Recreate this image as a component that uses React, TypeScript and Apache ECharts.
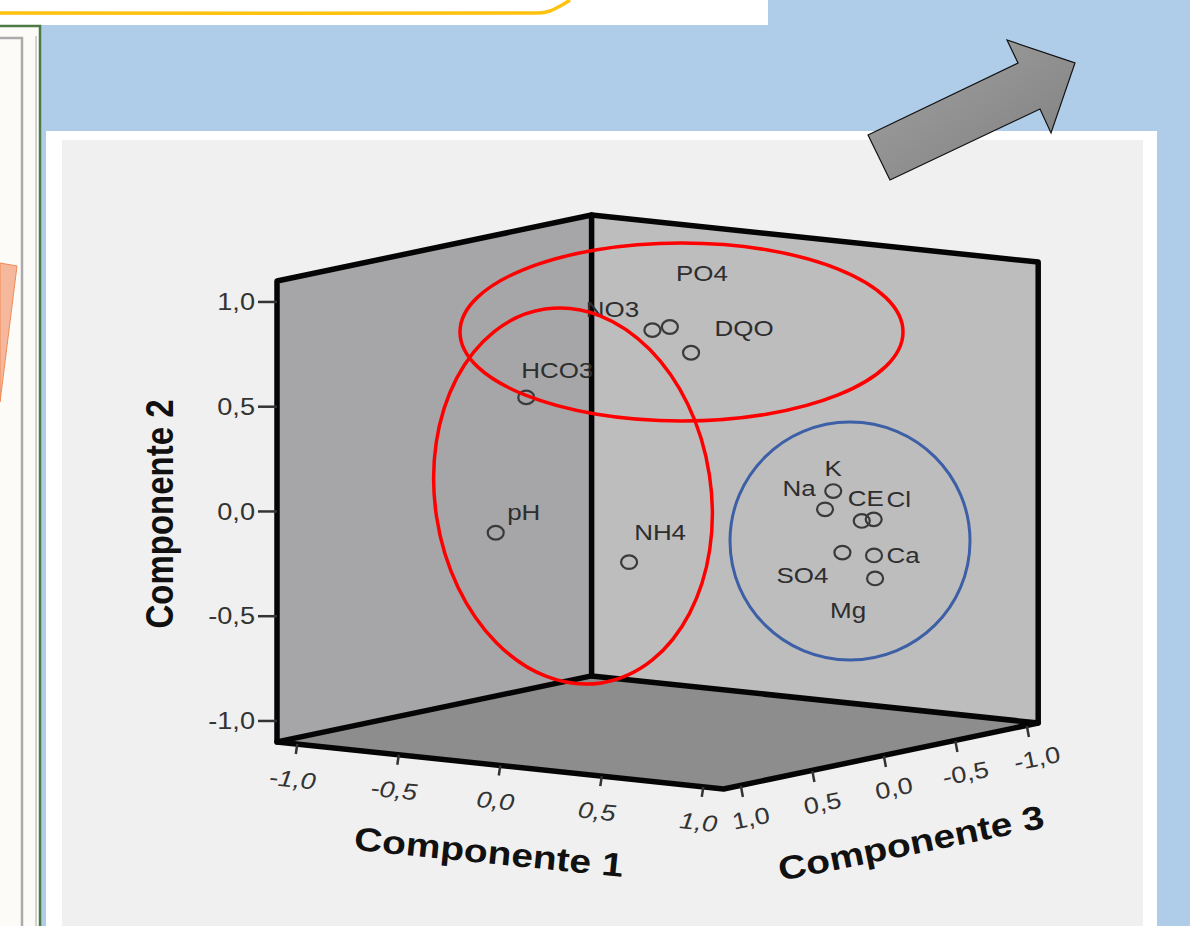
import React, { useEffect, useRef } from 'react';
import * as echarts from 'echarts';

// ---- Data (component loadings) ----
const VARIABLES = ['pH', 'HCO3', 'NH4', 'NO3', 'PO4', 'DQO', 'K', 'Na', 'CE', 'Cl', 'SO4', 'Ca', 'Mg'];
const COMPONENT_1 = [-0.41, -0.33, -0.07, 0.08, -0.01, 0.2, 0.83, 0.86, 0.9, 0.98, 0.84, 0.89, 0.86];
const COMPONENT_2 = [-0.11, 0.53, -0.28, 0.85, 0.82, 0.74, 0.13, 0.06, -0.02, 0.0, -0.17, -0.2, -0.32];
const COMPONENT_3 = [0.55, 0.45, 0.1, 0.15, -0.1, 0.05, -0.05, 0.05, -0.15, -0.12, -0.1, -0.25, -0.3];
const TICK_VALUES = [-1, -0.5, 0, 0.5, 1];
const TICK_LABELS = ['-1,0', '-0,5', '0,0', '0,5', '1,0'];
const AXIS_TITLES = ['Componente 1', 'Componente 2', 'Componente 3'];
const AXIS_RANGE = 1.1;

// ---- Layout / projection (screen space of the hidden cartesian axes) ----
const W = 1190;
const H = 926;
const ORIGIN = [657.6, 502];
const E1 = [203, 21.4];
const E2 = [0, -209.5];
const E3 = [-143, 30];
const STRETCH = 1.18;
const FONT = '"Liberation Sans", Arial, Helvetica, sans-serif';

function project(c1: number, c2: number, c3: number): number[] {
  return [
    ORIGIN[0] + E1[0] * c1 + E2[0] * c2 + E3[0] * c3,
    ORIGIN[1] + E1[1] * c1 + E2[1] * c2 + E3[1] * c3,
  ];
}

const LABEL_OFFSETS: Record<string, number[]> = {
  pH: [28, -21],
  HCO3: [31, -27],
  NH4: [31, -30],
  NO3: [-40, -21],
  PO4: [32, -54],
  DQO: [53, -25],
  K: [0, -23],
  Na: [-26, -21],
  CE: [4, -23],
  Cl: [25, -20],
  SO4: [-40, 23],
  Ca: [29, 0],
  Mg: [-27, 32],
};

function buildOption(): any {
  const R = AXIS_RANGE;

  const wallsSeries = {
    type: 'custom',
    z: 2,
    clip: false,
    silent: true,
    data: [[0, 0]],
    renderItem: (_p: any, api: any) => {
      const P = (a: number, b: number, c: number) => api.coord(project(a, b, c));
      const left = [P(-R, -R, R), P(-R, R, R), P(-R, R, -R), P(-R, -R, -R)];
      const right = [P(-R, -R, -R), P(-R, R, -R), P(R, R, -R), P(R, -R, -R)];
      const floor = [P(-R, -R, R), P(-R, -R, -R), P(R, -R, -R), P(R, -R, R)];
      const edge = { stroke: '#050505', lineWidth: 5.5, fill: 'none', lineJoin: 'round', lineCap: 'round' };
      return {
        type: 'group',
        children: [
          { type: 'polygon', shape: { points: left }, style: { fill: '#A6A6A9' } },
          { type: 'polygon', shape: { points: right }, style: { fill: '#BDBDBE' } },
          { type: 'polygon', shape: { points: floor }, style: { fill: '#8D8D8D' } },
          {
            type: 'polyline',
            shape: {
              points: [P(-R, -R, R), P(-R, R, R), P(-R, R, -R), P(R, R, -R), P(R, -R, -R), P(R, -R, R), P(-R, -R, R)],
            },
            style: edge,
          },
          { type: 'polyline', shape: { points: [P(-R, -R, -R), P(-R, R, -R)] }, style: edge },
          { type: 'polyline', shape: { points: [P(-R, -R, R), P(-R, -R, -R), P(R, -R, -R)] }, style: edge },
        ],
      };
    },
  };

  const tickText = (x: number, y: number, text: string, extra: any) => ({
    type: 'text',
    x,
    y,
    scaleX: STRETCH,
    ...extra,
    style: {
      text,
      fill: '#333333',
      fontSize: 23,
      fontFamily: FONT,
      align: 'center',
      verticalAlign: 'middle',
      ...(extra.style || {}),
    },
  });

  const axis2Series = {
    type: 'custom',
    z: 3,
    clip: false,
    silent: true,
    data: TICK_VALUES.map((v, i) => [v, i]),
    renderItem: (params: any, api: any) => {
      const v = api.value(0);
      const [x, y] = api.coord(project(-R, v, R));
      return {
        type: 'group',
        children: [
          { type: 'line', shape: { x1: x - 19, y1: y, x2: x, y2: y }, style: { stroke: '#333', lineWidth: 2.5 } },
          tickText(x - 22, y, TICK_LABELS[params.dataIndex], { style: { align: 'right' } }),
        ],
      };
    },
  };

  const axis1Series = {
    type: 'custom',
    z: 3,
    clip: false,
    silent: true,
    data: TICK_VALUES.map((v, i) => [v, i]),
    renderItem: (params: any, api: any) => {
      const v = api.value(0);
      const [x, y] = api.coord(project(v, -R, R));
      return {
        type: 'group',
        children: [
          { type: 'line', shape: { x1: x, y1: y, x2: x - 1.5, y2: y + 10 }, style: { stroke: '#333', lineWidth: 2.5 } },
          tickText(x - 5, y + 35, TICK_LABELS[params.dataIndex], {
            rotation: -0.105,
            style: { fontStyle: 'italic' },
          }),
        ],
      };
    },
  };

  const axis3Series = {
    type: 'custom',
    z: 3,
    clip: false,
    silent: true,
    data: TICK_VALUES.map((v, i) => [v, i]),
    renderItem: (params: any, api: any) => {
      const v = api.value(0);
      const [x, y] = api.coord(project(R, -R, v));
      return {
        type: 'group',
        children: [
          { type: 'line', shape: { x1: x + 3, y1: y, x2: x + 5, y2: y + 11 }, style: { stroke: '#333', lineWidth: 2.5 } },
          tickText(x + 13, y + 32, TICK_LABELS[params.dataIndex], { rotation: 0.2 }),
        ],
      };
    },
  };

  const pointsSeries = {
    type: 'custom',
    z: 4,
    clip: false,
    silent: true,
    dimensions: ['c1', 'c2', 'c3'],
    data: VARIABLES.map((_n, i) => [COMPONENT_1[i], COMPONENT_2[i], COMPONENT_3[i]]),
    renderItem: (params: any, api: any) => {
      const name = VARIABLES[params.dataIndex];
      const [x, y] = api.coord(project(api.value(0), api.value(1), api.value(2)));
      const off = LABEL_OFFSETS[name] || [25, -22];
      return {
        type: 'group',
        children: [
          {
            type: 'ellipse',
            shape: { cx: x, cy: y, rx: 8, ry: 6.8 },
            style: { fill: 'none', stroke: '#3A3A3A', lineWidth: 2.2 },
          },
          {
            type: 'text',
            x: x + off[0],
            y: y + off[1],
            scaleX: STRETCH,
            style: {
              text: name,
              fill: '#2E2E2E',
              fontSize: 22,
              fontFamily: FONT,
              align: 'center',
              verticalAlign: 'middle',
            },
          },
        ],
      };
    },
  };

  const graphicElements: any[] = [
    // page pieces
    { type: 'rect', z: 0, shape: { x: 0, y: 0, width: 768, height: 25 }, style: { fill: '#FFFFFF' } },
    {
      type: 'polyline',
      z: 1,
      shape: { points: [[0, 13], [538, 13], [550, 11], [562, 5], [570, 0]], smooth: 0.3 },
      style: { stroke: '#FFC20E', lineWidth: 3.5, fill: 'none' },
    },
    { type: 'rect', z: 0, shape: { x: 0, y: 25, width: 41, height: H - 25 }, style: { fill: '#FCFBF8' } },
    {
      type: 'polyline',
      z: 1,
      shape: { points: [[0, 38], [22, 38], [22, H]] },
      style: { stroke: '#ABABAB', lineWidth: 2.5, fill: 'none' },
    },
    { type: 'line', z: 1, shape: { x1: 36, y1: 36, x2: 36, y2: H }, style: { stroke: '#D2D2D2', lineWidth: 2 } },
    {
      type: 'polyline',
      z: 1,
      shape: { points: [[0, 26], [40, 26], [40, H]] },
      style: { stroke: '#4E7B45', lineWidth: 2.5, fill: 'none' },
    },
    {
      type: 'polygon',
      z: 1,
      shape: { points: [[0, 263], [17, 266], [0, 402]] },
      style: { fill: '#F6B89C', stroke: '#EE8A55', lineWidth: 1 },
    },
    { type: 'rect', z: 0, shape: { x: 46, y: 131, width: 1111, height: H - 131 }, style: { fill: '#FFFFFF' } },
    { type: 'rect', z: 0, shape: { x: 62, y: 140, width: 1081, height: H - 140 }, style: { fill: '#F0F0F0' } },
    // axis titles
    {
      type: 'text',
      z: 5,
      x: 160,
      y: 514,
      rotation: Math.PI / 2,
      scaleY: STRETCH,
      style: {
        text: AXIS_TITLES[1],
        fill: '#111',
        fontSize: 33,
        fontWeight: 'bold',
        fontFamily: FONT,
        align: 'center',
        verticalAlign: 'middle',
      },
    },
    {
      type: 'text',
      z: 5,
      x: 489,
      y: 852,
      rotation: -0.1,
      scaleX: STRETCH,
      style: {
        text: AXIS_TITLES[0],
        fill: '#111',
        fontSize: 33,
        fontWeight: 'bold',
        fontFamily: FONT,
        align: 'center',
        verticalAlign: 'middle',
      },
    },
    {
      type: 'text',
      z: 5,
      x: 911,
      y: 843,
      rotation: 0.2,
      scaleX: STRETCH,
      style: {
        text: AXIS_TITLES[2],
        fill: '#111',
        fontSize: 33,
        fontWeight: 'bold',
        fontFamily: FONT,
        align: 'center',
        verticalAlign: 'middle',
      },
    },
    // annotations
    {
      type: 'ellipse',
      z: 20,
      shape: { cx: 681.5, cy: 332, rx: 221.5, ry: 89 },
      style: { fill: 'none', stroke: '#FF0000', lineWidth: 3.5 },
    },
    {
      type: 'ellipse',
      z: 20,
      x: 573,
      y: 496,
      rotation: 0.15,
      shape: { cx: 0, cy: 0, rx: 138, ry: 189 },
      style: { fill: 'none', stroke: '#FF0000', lineWidth: 3.5 },
    },
    {
      type: 'ellipse',
      z: 20,
      shape: { cx: 850, cy: 541, rx: 120, ry: 119 },
      style: { fill: 'none', stroke: '#3D5FA6', lineWidth: 3 },
    },
    {
      type: 'polygon',
      z: 20,
      shape: {
        points: [
          [868, 135],
          [890, 180],
          [1040, 109],
          [1051, 133],
          [1075, 63],
          [1007, 40],
          [1018, 63],
        ],
      },
      style: {
        fill: new echarts.graphic.LinearGradient(0, 0, 1, 1, [
          { offset: 0, color: '#A3A3A3' },
          { offset: 1, color: '#7E7E7E' },
        ]),
        stroke: '#111',
        lineWidth: 1.2,
      },
    },
  ];

  return {
    animation: false,
    backgroundColor: '#AFCDE9',
    grid: { left: 0, right: 0, top: 0, bottom: 0 },
    xAxis: { type: 'value', min: 0, max: W, show: false },
    yAxis: { type: 'value', min: 0, max: H, inverse: true, show: false },
    graphic: { elements: graphicElements },
    series: [wallsSeries, axis2Series, axis1Series, axis3Series, pointsSeries],
  };
}

export default function App() {
  const ref = useRef<HTMLDivElement>(null);
  useEffect(() => {
    if (!ref.current) return;
    const chart = echarts.init(ref.current, undefined, { renderer: 'svg' });
    chart.setOption(buildOption());
    return () => chart.dispose();
  }, []);
  return <div ref={ref} style={{ position: 'fixed', left: 0, top: 0, width: W, height: H }} />;
}
